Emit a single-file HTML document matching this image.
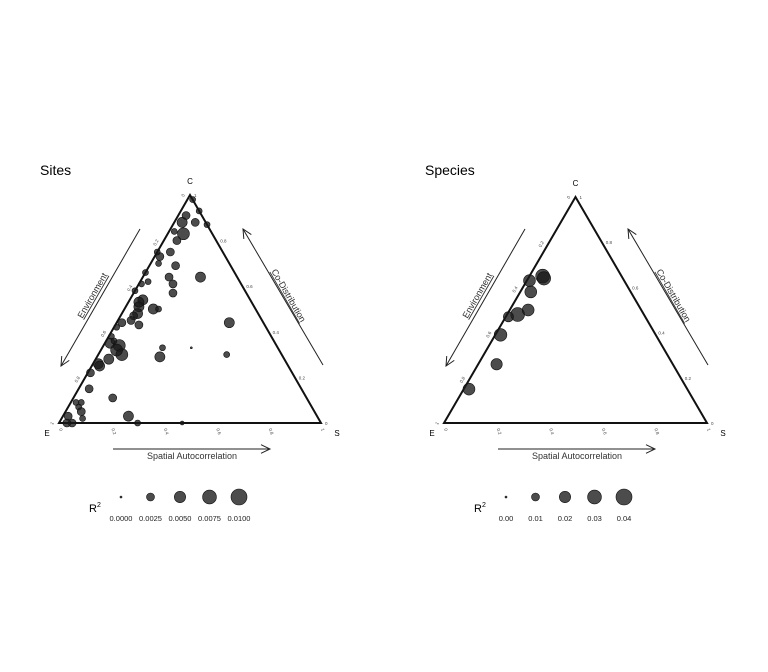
<!DOCTYPE html>
<html><head><meta charset="utf-8"><style>
html,body{margin:0;padding:0;background:#fff;}
svg{display:block;font-family:"Liberation Sans",sans-serif;}
</style></head><body>
<svg id="chart" width="768" height="672" viewBox="0 0 768 672"></svg>
<script>
// Sites data: C share, S share (E = 1 - C - S), R2 value
const sitesC = [0.98,0.91,0.88,0.88,0.93,0.87,0.83,0.84,0.80,0.75,0.73,0.70,0.69,0.64,0.64,0.61,0.62,0.61,0.57,0.54,0.51,0.50,0.50,0.48,0.47,0.43,0.44,0.42,0.44,0.33,0.30,0.33,0.29,0.35,0.34,0.32,0.30,0.28,0.26,0.25,0.22,0.15,0.11,0.09,0.09,0.07,0.05,0.03,0.02,0.00,0.00,0.03,0.00,0.00,0.53,0.45,0.75,0.66,0.58,0.38,0.36];
const sitesS = [0.02,0.03,0.03,0.08,0.07,0.13,0.06,0.02,0.05,0.05,0.02,0.03,0.10,0.22,0.10,0.13,0.03,0.01,0.15,0.05,0.05,0.11,0.13,0.06,0.05,0.09,0.02,0.01,0.43,0.34,0.49,0.23,0.24,0.02,0.06,0.06,0.09,0.05,0.02,0.03,0.01,0.04,0.15,0.02,0.04,0.04,0.06,0.02,0.08,0.05,0.03,0.25,0.30,0.47,0.04,0.05,0.00,0.00,0.00,0.01,0.03];
const sitesR2 = [0.0014,0.0025,0.004,0.0025,0.0014,0.0014,0.0056,0.0014,0.0025,0.0025,0.0025,0.0014,0.0025,0.004,0.0025,0.0025,0.0014,0.0014,0.0025,0.004,0.004,0.004,0.0014,0.004,0.0025,0.0025,0.0025,0.0014,0.004,0.0001,0.0014,0.0014,0.004,0.004,0.0056,0.0056,0.0056,0.004,0.004,0.004,0.0025,0.0025,0.0025,0.0014,0.0014,0.0014,0.0025,0.0025,0.0014,0.0025,0.0025,0.004,0.0014,0.0006,0.004,0.0025,0.0014,0.0014,0.0014,0.0014,0.0014];
// Species data
const spC = [0.65,0.64,0.63,0.58,0.48,0.47,0.50,0.39,0.26,0.15];
const spS = [0.05,0.06,0.01,0.04,0.04,0.01,0.07,0.02,0.07,0.02];
const spR2 = [0.03,0.028,0.022,0.022,0.03,0.016,0.022,0.025,0.02,0.022];
const sitesLegend = [0, 0.0025, 0.005, 0.0075, 0.01];
const sitesLegendLabels = ["0.0000","0.0025","0.0050","0.0075","0.0100"];
const spLegend = [0, 0.01, 0.02, 0.03, 0.04];
const spLegendLabels = ["0.00","0.01","0.02","0.03","0.04"];
const tickVals = [0, 0.2, 0.4, 0.6, 0.8, 1];

const svg = document.getElementById('chart');
const NS = 'http://www.w3.org/2000/svg';
function mk(tag, attrs, parent, text){
  const e = document.createElementNS(NS, tag);
  for (const k in attrs) e.setAttribute(k, attrs[k]);
  if (text !== undefined) e.textContent = text;
  (parent || svg).appendChild(e);
  return e;
}

function panel(cfg){
  const g = mk('g', {});
  
  
  const Ex = cfg.ex, Ey = cfg.ey, W = cfg.w, H = cfg.h;
  const px = (c, s) => Ex + (s + c / 2) * W;
  const py = (c) => Ey - c * H;
  const rad = v => Math.max(1, 8 * Math.sqrt(v / cfg.rmax));

  const t = mk('text', {x: cfg.ex - 19, y: 175, 'font-size': 14, fill: '#000'}, g, cfg.title);
  
  

  // triangle
  const tri = mk('polygon', {points: `${Ex},${Ey} ${Ex+W},${Ey} ${Ex+W/2},${Ey-H}`, fill: 'none', stroke: '#111', 'stroke-width': 2}, g);
  
  

  // vertex labels
  const lc = mk('text', {x: Ex + W/2, y: Ey - H - 11, 'font-size': 8, 'text-anchor': 'middle'}, g, 'C');
  
  
  const le = mk('text', {x: Ex - 12, y: Ey + 13, 'font-size': 8, 'text-anchor': 'middle'}, g, 'E');
  
  
  const ls = mk('text', {x: Ex + W + 16, y: Ey + 13, 'font-size': 8, 'text-anchor': 'middle'}, g, 'S');
  
  

  // tick labels
  tickVals.forEach(v => {
    // bottom axis (S)
    const bx = px(0, v), by = Ey + 6;
    const tb = mk('text', {x: bx, y: by, 'font-size': 4.5, fill: '#444', transform: `rotate(70 ${bx} ${by})`}, g, String(v));
    
    
    // right axis (C)
    const rx = px(v, 1 - v) + 4, ry = py(v) + 2;
    const tr = mk('text', {x: rx, y: ry, 'font-size': 4.5, fill: '#444'}, g, String(v));
    
    
    // left axis (E)
    const lx = px(1 - v, 0) - 5, ly = py(1 - v);
    const tl = mk('text', {x: lx, y: ly, 'font-size': 4.5, fill: '#444', transform: `rotate(-60 ${lx} ${ly})`, 'text-anchor': 'end'}, g, String(v));
    
    
  });

  // arrows
  const dx = Ex - cfg.ex;
  const ar = (x1,y1,x2,y2,name) => {
    const a = mk('g', {}, g);
    
    
    mk('line', {x1, y1, x2, y2, stroke: '#222', 'stroke-width': 1}, a);
    const ang = Math.atan2(y2 - y1, x2 - x1);
    const L = 10, sp = 0.45;
    mk('polyline', {points: `${x2 - L*Math.cos(ang-sp)},${y2 - L*Math.sin(ang-sp)} ${x2},${y2} ${x2 - L*Math.cos(ang+sp)},${y2 - L*Math.sin(ang+sp)}`, fill: 'none', stroke: '#222', 'stroke-width': 1}, a);
  };
  ar(Ex + 81, 229, Ex + 2, 366, 'environment-arrow');
  ar(Ex + 264, 365, Ex + 184, 229, 'codistribution-arrow');
  ar(Ex + 54, 449, Ex + 211, 449, 'spatial-arrow');

  const envT = mk('text', {x: Ex + 36, y: 297, 'font-size': 9, fill: '#333', 'text-anchor': 'middle', transform: `rotate(-60 ${Ex+36} 297)`, 'text-decoration': 'underline'}, g, 'Environment');
  
  
  const coT = mk('text', {x: Ex + 227, y: 297, 'font-size': 9, fill: '#333', 'text-anchor': 'middle', transform: `rotate(60 ${Ex+227} 297)`, 'text-decoration': 'underline'}, g, 'Co-Distribution');
  
  
  const spT = mk('text', {x: Ex + 133, y: 459, 'font-size': 9, fill: '#333', 'text-anchor': 'middle'}, g, 'Spatial Autocorrelation');
  
  

  // points
  cfg.c.forEach((c, i) => {
    const p = mk('circle', {cx: px(c, cfg.s[i]), cy: py(c), r: rad(cfg.r2[i]), fill: 'rgba(25,25,25,0.78)', stroke: '#111', 'stroke-width': 0.6}, g);
    
    
  });

  // legend
  const lg = mk('g', {}, g);
  
  
  const rt = mk('text', {x: Ex + 30, y: 512, 'font-size': 11}, lg, 'R');
  mk('tspan', {dy: -5, 'font-size': 7}, rt, '2');
  cfg.leg.forEach((v, i) => {
    const cx = Ex + 62 + i * 29.5;
    const c = mk('circle', {cx, cy: 497, r: rad(v), fill: 'rgba(25,25,25,0.78)', stroke: '#111', 'stroke-width': 0.6}, lg);
    
    
    const tx = mk('text', {x: cx, y: 521, 'font-size': 7.5, 'text-anchor': 'middle', fill: '#222'}, lg, cfg.legLabels[i]);
    
    
  });
}

panel({name: 'sites', title: 'Sites', ex: 59, ey: 423, w: 262, h: 228, c: sitesC, s: sitesS, r2: sitesR2, rmax: 0.01, leg: sitesLegend, legLabels: sitesLegendLabels});
panel({name: 'species', title: 'Species', ex: 444, ey: 423, w: 263, h: 226, c: spC, s: spS, r2: spR2, rmax: 0.04, leg: spLegend, legLabels: spLegendLabels});
</script>
</body></html>
